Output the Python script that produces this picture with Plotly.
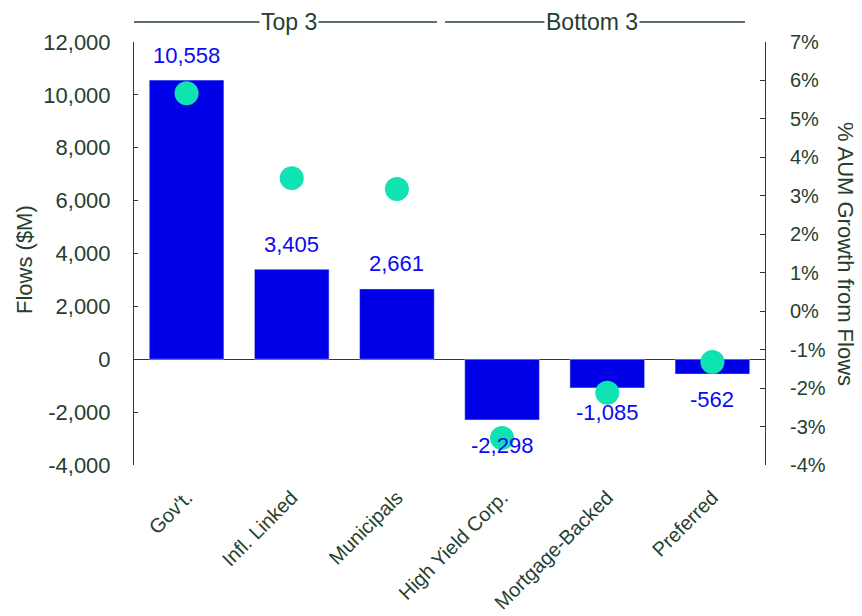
import plotly.graph_objects as go

categories = ["Gov't.", "Infl. Linked", "Municipals", "High Yield Corp.", "Mortgage-Backed", "Preferred"]
flows = [10558, 3405, 2661, -2298, -1085, -562]
aum_growth = [5.67, 3.46, 3.18, -3.30, -2.12, -1.32]
left_ticks = [-4000, -2000, 0, 2000, 4000, 6000, 8000, 10000, 12000]
right_ticks = [-4, -3, -2, -1, 0, 1, 2, 3, 4, 5, 6, 7]
groups = ["Top 3", "Bottom 3"]

TXT = "#26402F"
BAR = "#0000E6"
LBL = "#0A0AF5"
DOT = "#0FE3B2"
FONT = "Liberation Sans, Arial, sans-serif"

fig = go.Figure()
fig.add_trace(go.Bar(x=categories, y=flows, marker_color=BAR, width=0.71, yaxis="y"))
fig.add_trace(go.Scatter(x=categories, y=aum_growth, mode="markers", yaxis="y2",
                         marker=dict(size=24, color=DOT, line=dict(width=0))))

for c, v in zip(categories, flows):
    fig.add_annotation(x=c, y=v, xref="x", yref="y", text=f"{v:,}", showarrow=False,
                       yanchor="middle", yshift=25 if v > 0 else -25,
                       font=dict(size=22, color=LBL, family=FONT))

L, R, T, B = 134, 765, 42, 465
W, H = 862, 616
def px(xp):
    return (xp - L) / (R - L)
def py(yp):
    return (B - yp) / (B - T)

# group header lines
for (x0, x1, xc), g in zip([(134, 437, 289), (445, 745, 592)], groups):
    fig.add_shape(type="line", xref="paper", yref="paper", x0=px(x0), x1=px(x1),
                  y0=py(22), y1=py(22), line=dict(color=TXT, width=1.3))
    fig.add_annotation(xref="paper", yref="paper", x=px(xc), y=py(22), text=g,
                       showarrow=False, bgcolor="white", borderpad=1,
                       font=dict(size=23, color=TXT, family=FONT),
                       xanchor="center", yanchor="middle")

fig.add_annotation(xref="paper", yref="paper", x=px(24), y=py(259), text="Flows ($M)",
                   textangle=-90, showarrow=False, font=dict(size=22, color=TXT, family=FONT),
                   xanchor="center", yanchor="middle")
fig.add_annotation(xref="paper", yref="paper", x=px(846), y=py(254), text="% AUM Growth from Flows",
                   textangle=90, showarrow=False, font=dict(size=22, color=TXT, family=FONT),
                   xanchor="center", yanchor="middle")

fig.update_layout(
    width=W, height=H, margin=dict(l=L, r=W - R, t=T, b=H - B, autoexpand=False),
    plot_bgcolor="white", paper_bgcolor="white", showlegend=False,
    font=dict(family=FONT, size=21, color=TXT),
    xaxis=dict(tickangle=-45, showgrid=False, showline=False, ticks="", automargin=False,
               tickfont=dict(size=20, color=TXT), ticklabelstandoff=16),
    yaxis=dict(range=[-4000, 12000], tickvals=left_ticks, automargin=False,
               ticktext=[f"{t:,}" for t in left_ticks], showgrid=False,
               showline=True, linecolor=TXT, linewidth=1, ticks="inside", ticklen=4,
               tickcolor=TXT, zeroline=True, zerolinecolor=TXT, zerolinewidth=1.3,
               tickfont=dict(size=22, color=TXT), ticklabelstandoff=18),
    yaxis2=dict(range=[-4, 7], tickvals=right_ticks, ticktext=[f"{t}%" for t in right_ticks],
                overlaying="y", side="right", automargin=False,
                showgrid=False, showline=True, linecolor=TXT, linewidth=1, ticks="inside",
                ticklen=5, tickcolor=TXT, zeroline=False,
                tickfont=dict(size=20, color=TXT), ticklabelstandoff=20),
)

fig.write_html("out.html")
